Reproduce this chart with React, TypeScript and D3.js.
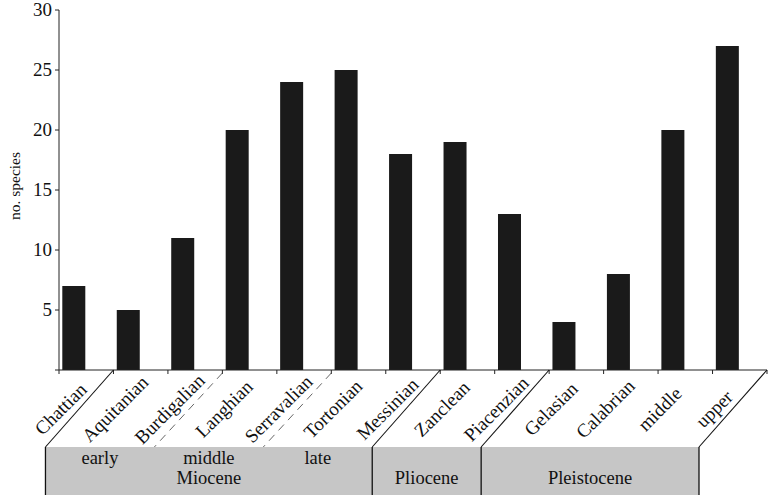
import React from "react";
import * as d3 from "d3";

const stages = ["Chattian","Aquitanian","Burdigalian","Langhian","Serravalian","Tortonian","Messinian","Zanclean","Piacenzian","Gelasian","Calabrian","middle","upper"];
const species = [7,5,11,20,24,25,18,19,13,4,8,20,27];
const yTicks = [5,10,15,20,25,30];
// stage boundaries that are drawn as slanted lines
const boundaries = [
  { idx: 1, dashed: false, vertical: true },
  { idx: 3, dashed: true, vertical: false },
  { idx: 5, dashed: true, vertical: false },
  { idx: 7, dashed: false, vertical: true },
  { idx: 9, dashed: false, vertical: true },
  { idx: 13, dashed: false, vertical: true },
];
const subEpochs = [
  { name: "early", from: 1, to: 3 },
  { name: "middle", from: 3, to: 5 },
  { name: "late", from: 5, to: 7 },
];
const epochs = [
  { name: "Miocene", from: 1, to: 7 },
  { name: "Pliocene", from: 7, to: 9 },
  { name: "Pleistocene", from: 9, to: 13 },
];

export default function App() {
  const W = 769, H = 495;
  const x0 = 59, x1 = 767;
  const yBase = 370;
  const x = d3.scaleBand<string>().domain(stages).range([x0, x1]).paddingInner(0).paddingOuter(0);
  const y = d3.scaleLinear().domain([0, 30]).range([yBase, 10]);
  const bw = x.bandwidth();
  const edge = (i: number) => x0 + i * bw;
  const dxSlant = -68;
  const boxTop = 447;
  const font = "'Liberation Serif', 'Times New Roman', serif";
  const ink = "#222";
  return (
    <svg width={W} height={H} style={{ position: "absolute", left: 0, top: 0 }} fontFamily={font}>
      <rect x={edge(1) + dxSlant} y={boxTop} width={edge(13) - edge(1)} height={H - boxTop} fill="#c6c6c6" />
      {stages.map((s, i) => (
        <rect key={s} x={(x(s) as number) + 3.3} y={y(species[i])} width={23} height={yBase - y(species[i])} fill="#1a1a1a" />
      ))}
      {/* y axis */}
      <line x1={x0} x2={x0} y1={y(30)} y2={yBase} stroke={ink} strokeWidth={1} />
      {[0, ...yTicks].map((t) => (
        <line key={t} x1={x0 - 4} x2={x0} y1={y(t)} y2={y(t)} stroke={ink} strokeWidth={1} />
      ))}
      {yTicks.map((t) => (
        <text key={t} x={x0 - 7} y={y(t)} dy="0.34em" textAnchor="end" fontSize={19} fill="#111">{t}</text>
      ))}
      <text transform={`translate(20,${186}) rotate(-90)`} textAnchor="middle" fontSize={15.5} fill="#111">no. species</text>
      {/* x axis */}
      <line x1={x0} x2={x1} y1={yBase} y2={yBase} stroke={ink} strokeWidth={1} />
      {d3.range(stages.length + 1).map((i) => (
        <line key={i} x1={edge(i)} x2={edge(i)} y1={yBase} y2={yBase + 4} stroke={ink} strokeWidth={1} />
      ))}
      {stages.map((s) => {
        const cx = (x(s) as number) + bw / 2 - 21;
        const cy = 413.5;
        return (
          <text key={s} transform={`translate(${cx},${cy}) rotate(-45)`} textAnchor="middle" fontSize={19} fill="#111">{s}</text>
        );
      })}
      {boundaries.map((b) => {
        const sx = edge(b.idx);
        return (
          <g key={b.idx}>
            <line x1={sx} y1={yBase + (b.dashed ? 3 : 0)} x2={sx + dxSlant} y2={boxTop} stroke={b.dashed ? "#555" : "#111"} strokeWidth={b.dashed ? 0.9 : 1.1} strokeDasharray={b.dashed ? "8,6" : undefined} />
            {b.vertical && <line x1={sx + dxSlant} y1={boxTop} x2={sx + dxSlant} y2={H} stroke="#111" strokeWidth={1.3} />}
          </g>
        );
      })}
      {subEpochs.map((e) => (
        <text key={e.name} x={(edge(e.from) + edge(e.to)) / 2 + dxSlant} y={464} textAnchor="middle" fontSize={18.5} fill="#111">{e.name}</text>
      ))}
      {epochs.map((e) => (
        <text key={e.name} x={(edge(e.from) + edge(e.to)) / 2 + dxSlant} y={484} textAnchor="middle" fontSize={18.5} fill="#111">{e.name}</text>
      ))}
    </svg>
  );
}
